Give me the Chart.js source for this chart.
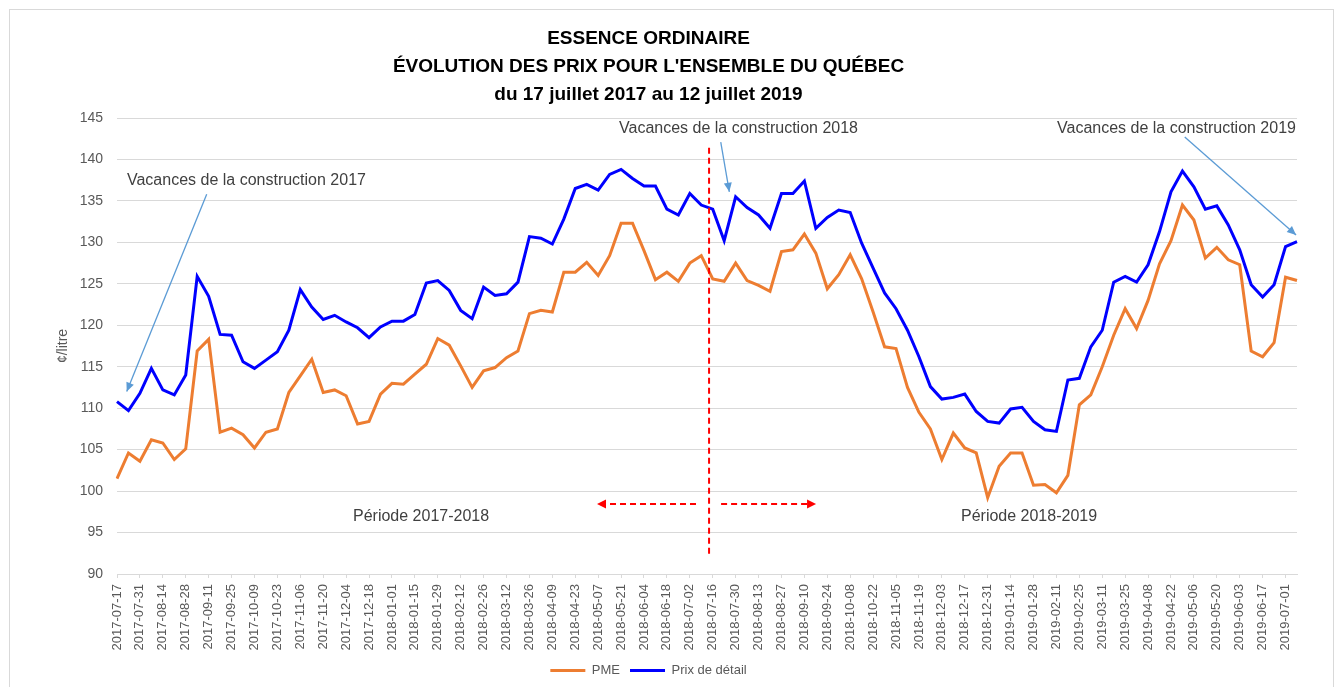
<!DOCTYPE html>
<html lang="fr">
<head>
<meta charset="utf-8">
<title>Essence ordinaire - évolution des prix</title>
<script src="https://cdn.jsdelivr.net/npm/chart.js@4/dist/chart.umd.min.js"></script>
<style>
  html, body { margin: 0; padding: 0; background: #fff; }
  #wrap { width: 1337px; height: 687px; position: relative; }
</style>
</head>
<body>
<div id="wrap"><canvas id="chart" width="1337" height="687"></canvas></div>
<script>
// Semaines (lundis) du 2017-07-17 au 2019-07-08
const weeks = [
  '2017-07-17','2017-07-24','2017-07-31','2017-08-07','2017-08-14','2017-08-21','2017-08-28','2017-09-04',
  '2017-09-11','2017-09-18','2017-09-25','2017-10-02','2017-10-09','2017-10-16','2017-10-23','2017-10-30',
  '2017-11-06','2017-11-13','2017-11-20','2017-11-27','2017-12-04','2017-12-11','2017-12-18','2017-12-25',
  '2018-01-01','2018-01-08','2018-01-15','2018-01-22','2018-01-29','2018-02-05','2018-02-12','2018-02-19',
  '2018-02-26','2018-03-05','2018-03-12','2018-03-19','2018-03-26','2018-04-02','2018-04-09','2018-04-16',
  '2018-04-23','2018-04-30','2018-05-07','2018-05-14','2018-05-21','2018-05-28','2018-06-04','2018-06-11',
  '2018-06-18','2018-06-25','2018-07-02','2018-07-09','2018-07-16','2018-07-23','2018-07-30','2018-08-06',
  '2018-08-13','2018-08-20','2018-08-27','2018-09-03','2018-09-10','2018-09-17','2018-09-24','2018-10-01',
  '2018-10-08','2018-10-15','2018-10-22','2018-10-29','2018-11-05','2018-11-12','2018-11-19','2018-11-26',
  '2018-12-03','2018-12-10','2018-12-17','2018-12-24','2018-12-31','2019-01-07','2019-01-14','2019-01-21',
  '2019-01-28','2019-02-04','2019-02-11','2019-02-18','2019-02-25','2019-03-04','2019-03-11','2019-03-18',
  '2019-03-25','2019-04-01','2019-04-08','2019-04-15','2019-04-22','2019-04-29','2019-05-06','2019-05-13',
  '2019-05-20','2019-05-27','2019-06-03','2019-06-10','2019-06-17','2019-06-24','2019-07-01','2019-07-08'
];

// PME (¢/litre)
const pme = [
  101.5, 104.6, 103.6, 106.2, 105.8, 103.8, 105.1, 116.9, 118.3, 107.1, 107.6, 106.8, 105.2, 107.1, 107.5, 111.9,
  113.9, 115.9, 111.9, 112.2, 111.5, 108.1, 108.4, 111.7, 113.0, 112.9, 114.1, 115.3, 118.4, 117.6, 115.1, 112.5,
  114.5, 114.9, 116.1, 116.9, 121.4, 121.8, 121.6, 126.4, 126.4, 127.6, 126.0, 128.4, 132.3, 132.3, 129.0, 125.5,
  126.4, 125.3, 127.5, 128.4, 125.6, 125.3, 127.5, 125.4, 124.8, 124.1, 128.9, 129.1, 131.0, 128.7, 124.4, 126.1,
  128.5, 125.6, 121.6, 117.4, 117.2, 112.5, 109.5, 107.5, 103.8, 107.0, 105.2, 104.6, 99.2, 103.0, 104.6, 104.6,
  100.7, 100.8, 99.8, 101.9, 110.4, 111.6, 115.0, 118.8, 122.0, 119.6, 123.0, 127.4, 130.2, 134.5, 132.7, 128.1,
  129.4, 127.9, 127.3, 116.9, 116.2, 117.9, 125.8, 125.4
];

// Prix de détail (¢/litre)
const prixDetail = [
  110.8, 109.7, 111.8, 114.8, 112.2, 111.6, 114.0, 125.9, 123.5, 118.9, 118.8, 115.6, 114.8, 115.8, 116.8, 119.4,
  124.3, 122.2, 120.7, 121.2, 120.4, 119.7, 118.5, 119.8, 120.5, 120.5, 121.3, 125.1, 125.4, 124.2, 121.8, 120.8,
  124.6, 123.6, 123.8, 125.2, 130.7, 130.5, 129.8, 132.8, 136.5, 137.0, 136.3, 138.2, 138.8, 137.7, 136.8, 136.8,
  134.0, 133.3, 135.9, 134.5, 134.0, 130.2, 135.5, 134.2, 133.3, 131.7, 135.9, 135.9, 137.4, 131.7, 133.0, 133.9,
  133.6, 129.9, 126.9, 123.9, 122.0, 119.4, 116.2, 112.6, 111.1, 111.3, 111.7, 109.6, 108.4, 108.2, 109.9, 110.1,
  108.4, 107.4, 107.2, 113.4, 113.6, 117.4, 119.4, 125.2, 125.9, 125.2, 127.3, 131.3, 136.1, 138.6, 136.7, 134.0,
  134.4, 132.1, 129.1, 124.9, 123.4, 124.9, 129.5, 130.1
];

const titleLines = [
  'ESSENCE ORDINAIRE',
  "ÉVOLUTION DES PRIX POUR L'ENSEMBLE DU QUÉBEC",
  'du 17 juillet 2017 au 12 juillet 2019'
];

// Annotations, en unités du graphique (indice de semaine, ¢/litre)
const notes = [
  { text: 'Vacances de la construction 2017', at: [11.3, 137.4], arrow: [[7.83, 135.8], [0.85, 112.0]] },
  { text: 'Vacances de la construction 2018', at: [54.25, 143.67], arrow: [[52.7, 142.1], [53.45, 136.1]] },
  { text: 'Vacances de la construction 2019', at: [92.48, 143.67], arrow: [[93.2, 142.7], [102.92, 130.9]] }
];
const periods = [
  { text: 'Période 2017-2018', at: [26.54, 96.9] },
  { text: 'Période 2018-2019', at: [79.61, 96.9] }
];
const splitWeek = 51.68;           // séparation des deux périodes
const splitSpan = [92.05, 141.4];  // étendue verticale de la ligne
const periodArrowY = 98.44;
const periodArrows = [[50.54, 41.9], [52.73, 61.02]];

const GRID = '#d9d9d9';
const TEXT = '#595959';

function arrowHead(ctx, x0, y0, x1, y1, len, wid, color) {
  const a = Math.atan2(y1 - y0, x1 - x0);
  ctx.save();
  ctx.setLineDash([]);
  ctx.fillStyle = color;
  ctx.beginPath();
  ctx.moveTo(x1, y1);
  ctx.lineTo(x1 - len * Math.cos(a) + wid * Math.sin(a), y1 - len * Math.sin(a) - wid * Math.cos(a));
  ctx.lineTo(x1 - len * Math.cos(a) - wid * Math.sin(a), y1 - len * Math.sin(a) + wid * Math.cos(a));
  ctx.closePath();
  ctx.fill();
  ctx.restore();
}

const frame = {
  id: 'frame',
  beforeDraw(chart) {
    const ctx = chart.ctx;
    ctx.save();
    ctx.fillStyle = '#fff';
    ctx.fillRect(0, 0, chart.width, chart.height);
    ctx.strokeStyle = GRID;
    ctx.lineWidth = 1;
    ctx.strokeRect(9.5, 9.5, 1324, 700);
    ctx.restore();
  }
};

const annotations = {
  id: 'annotations',
  afterDatasetsDraw(chart) {
    const { ctx, scales: { x, y } } = chart;
    const X = v => x.getPixelForValue(v);
    const Y = v => y.getPixelForValue(v);
    ctx.save();

    // textes et flèches bleues
    ctx.font = '16px "Liberation Sans", Arial, sans-serif';
    ctx.fillStyle = '#404040';
    ctx.textAlign = 'center';
    ctx.textBaseline = 'middle';
    notes.forEach(n => {
      ctx.fillText(n.text, X(n.at[0]), Y(n.at[1]));
      const [p0, p1] = n.arrow;
      const x0 = X(p0[0]), y0 = Y(p0[1]), x1 = X(p1[0]), y1 = Y(p1[1]);
      ctx.strokeStyle = '#5b9bd5';
      ctx.lineWidth = 1.3;
      ctx.beginPath();
      ctx.moveTo(x0, y0);
      ctx.lineTo(x1, y1);
      ctx.stroke();
      arrowHead(ctx, x0, y0, x1, y1, 9, 4, '#5b9bd5');
    });
    periods.forEach(p => ctx.fillText(p.text, X(p.at[0]), Y(p.at[1])));

    // séparation des périodes
    ctx.strokeStyle = '#ff0000';
    ctx.lineWidth = 2;
    ctx.setLineDash([6, 4]);
    ctx.beginPath();
    ctx.moveTo(X(splitWeek), Y(splitSpan[1]));
    ctx.lineTo(X(splitWeek), Y(splitSpan[0]));
    ctx.stroke();
    periodArrows.forEach(([a, b]) => {
      const x0 = X(a), x1 = X(b), yy = Y(periodArrowY);
      ctx.beginPath();
      ctx.moveTo(x0, yy);
      ctx.lineTo(x1 - Math.sign(x1 - x0) * 6, yy);
      ctx.stroke();
      arrowHead(ctx, x0, yy, x1, yy, 9, 4.5, '#ff0000');
    });
    ctx.restore();
  }
};

new Chart(document.getElementById('chart'), {
  type: 'line',
  data: {
    labels: weeks,
    datasets: [
      { label: 'PME', data: pme, borderColor: '#ed7d31', backgroundColor: '#ed7d31', borderWidth: 3, pointRadius: 0, tension: 0 },
      { label: 'Prix de détail', data: prixDetail, borderColor: '#0000ff', backgroundColor: '#0000ff', borderWidth: 3, pointRadius: 0, tension: 0 }
    ]
  },
  options: {
    responsive: false,
    animation: false,
    layout: { padding: { left: 0, right: 40, top: 0, bottom: 0 } },
    plugins: {
      title: {
        display: true,
        text: titleLines,
        color: '#000',
        font: { family: '"Liberation Sans", Arial, sans-serif', size: 19, weight: 'bold', lineHeight: '28px' },
        padding: { top: 25, bottom: 9 }
      },
      legend: {
        position: 'bottom',
        labels: {
          boxWidth: 35,
          boxHeight: 3,
          padding: 10,
          color: TEXT,
          font: { family: '"Liberation Sans", Arial, sans-serif', size: 13 },
          generateLabels: chart => Chart.defaults.plugins.legend.labels.generateLabels(chart)
            .map(l => Object.assign(l, { fillStyle: l.strokeStyle, lineWidth: 0 }))
        }
      },
      tooltip: { enabled: false }
    },
    scales: {
      x: {
        offset: false,
        grid: {
          drawOnChartArea: false,
          drawTicks: true,
          tickLength: 4,
          tickColor: ctx => (ctx.index % 2 === 0 ? GRID : 'rgba(0,0,0,0)')
        },
        border: { display: true, color: GRID },
        ticks: {
          autoSkip: false,
          maxRotation: 90,
          minRotation: 90,
          padding: 6,
          color: TEXT,
          font: { family: '"Liberation Sans", Arial, sans-serif', size: 13 },
          callback: function (value, index) { return index % 2 === 0 ? this.getLabelForValue(value) : ''; }
        },
        afterFit: scale => { scale.height = 80; }
      },
      y: {
        min: 90,
        max: 145,
        grid: { color: GRID, drawTicks: false },
        border: { display: false },
        ticks: {
          stepSize: 5,
          padding: 14,
          color: TEXT,
          font: { family: '"Liberation Sans", Arial, sans-serif', size: 14 }
        },
        title: {
          display: true,
          text: '¢/litre',
          color: TEXT,
          font: { family: '"Liberation Sans", Arial, sans-serif', size: 14 },
          padding: { top: 55, bottom: 0 }
        },
        afterFit: scale => { scale.width = 117; }
      }
    }
  },
  plugins: [frame, annotations]
});
</script>
</body>
</html>
